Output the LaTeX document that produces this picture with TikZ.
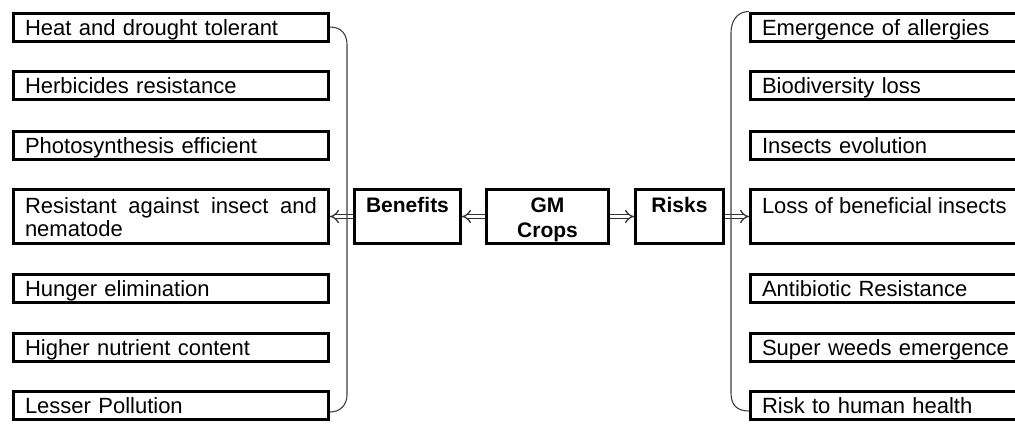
\documentclass[tikz,border=0pt]{standalone}
\usepackage{fontspec}
\setmainfont{Liberation Sans}
\usetikzlibrary{arrows.meta}
\tolerance=9999

\tikzset{
  item/.style={draw, line width=3pt, anchor=west, text width=292pt,
    inner xsep=11.5pt, inner ysep=0pt, minimum height=28pt,
    text height=19pt, text depth=3pt, font=\fontsize{22}{23}\selectfont},
  tall/.style={minimum height=54pt, text height=23.5pt, text depth=30.5pt, align=justify},
  hub/.style={draw, line width=3pt, inner sep=0pt, minimum height=54pt,
    text height=23pt, text depth=31pt, font=\fontsize{21}{25}\selectfont\bfseries},
  link/.style={double=white, double distance=3.2pt, line width=1.3pt, draw=black!80, -{Implies}},
  brace/.style={draw=black!75, line width=1.1pt},
}

\begin{document}
\begin{tikzpicture}[x=1pt, y=-1pt]
    \clip (0,0) rectangle (1015,424);

    % benefits side
    \foreach \y/\n/\t in {27/b1/Heat and drought tolerant, 85/b2/Herbicides resistance,
        145/b3/Photosynthesis efficient, 288/b5/Hunger elimination,
        347.5/b6/Higher nutrient content, 405/b7/Lesser Pollution}
      \node[item] (\n) at (12,\y) {\t};
    \node[item, tall] (b4) at (12,216.5) {Resistant against insect and nematode};

    % risks side
    \foreach \y/\n/\t in {27/r1/Emergence of allergies, 85/r2/Biodiversity loss,
        145/r3/Insects evolution, 288/r5/Antibiotic Resistance,
        347.5/r6/Super weeds emergence, 405/r7/Risk to human health}
      \node[item] (\n) at (749,\y) {\t};
    \node[item, tall] (r4) at (749,216.5) {Loss of beneficial insects};

    % middle
    \node[hub, minimum width=106pt] (benefits) at (407.5,216.5) {Benefits};
    \node[hub, minimum width=122pt] (crops) at (547.5,216.5)
      {\begin{tabular}[t]{@{}c@{}}GM\\Crops\end{tabular}};
    \node[hub, minimum width=88pt] (risks) at (679.5,216.5) {Risks};

    \draw[link] (crops.west) -- (benefits.east);
    \draw[link] (benefits.west) -- (b4.east);
    \draw[link] (crops.east) -- (risks.west);
    \draw[link] (risks.east) -- (r4.west);

    \draw[brace] (b1.east) .. controls +(12,0) and +(0,-10) .. (347,45) -- (347,395)
      .. controls +(0,10) and +(10,0) .. ([yshift=-7pt]b7.east);
    \draw[brace] (r1.north west) .. controls +(-12,0) and +(0,-12) .. (731,33) -- (731,393)
      .. controls +(0,12) and +(-12,0) .. ([yshift=-6pt]r7.west);
\end{tikzpicture}
\end{document}
